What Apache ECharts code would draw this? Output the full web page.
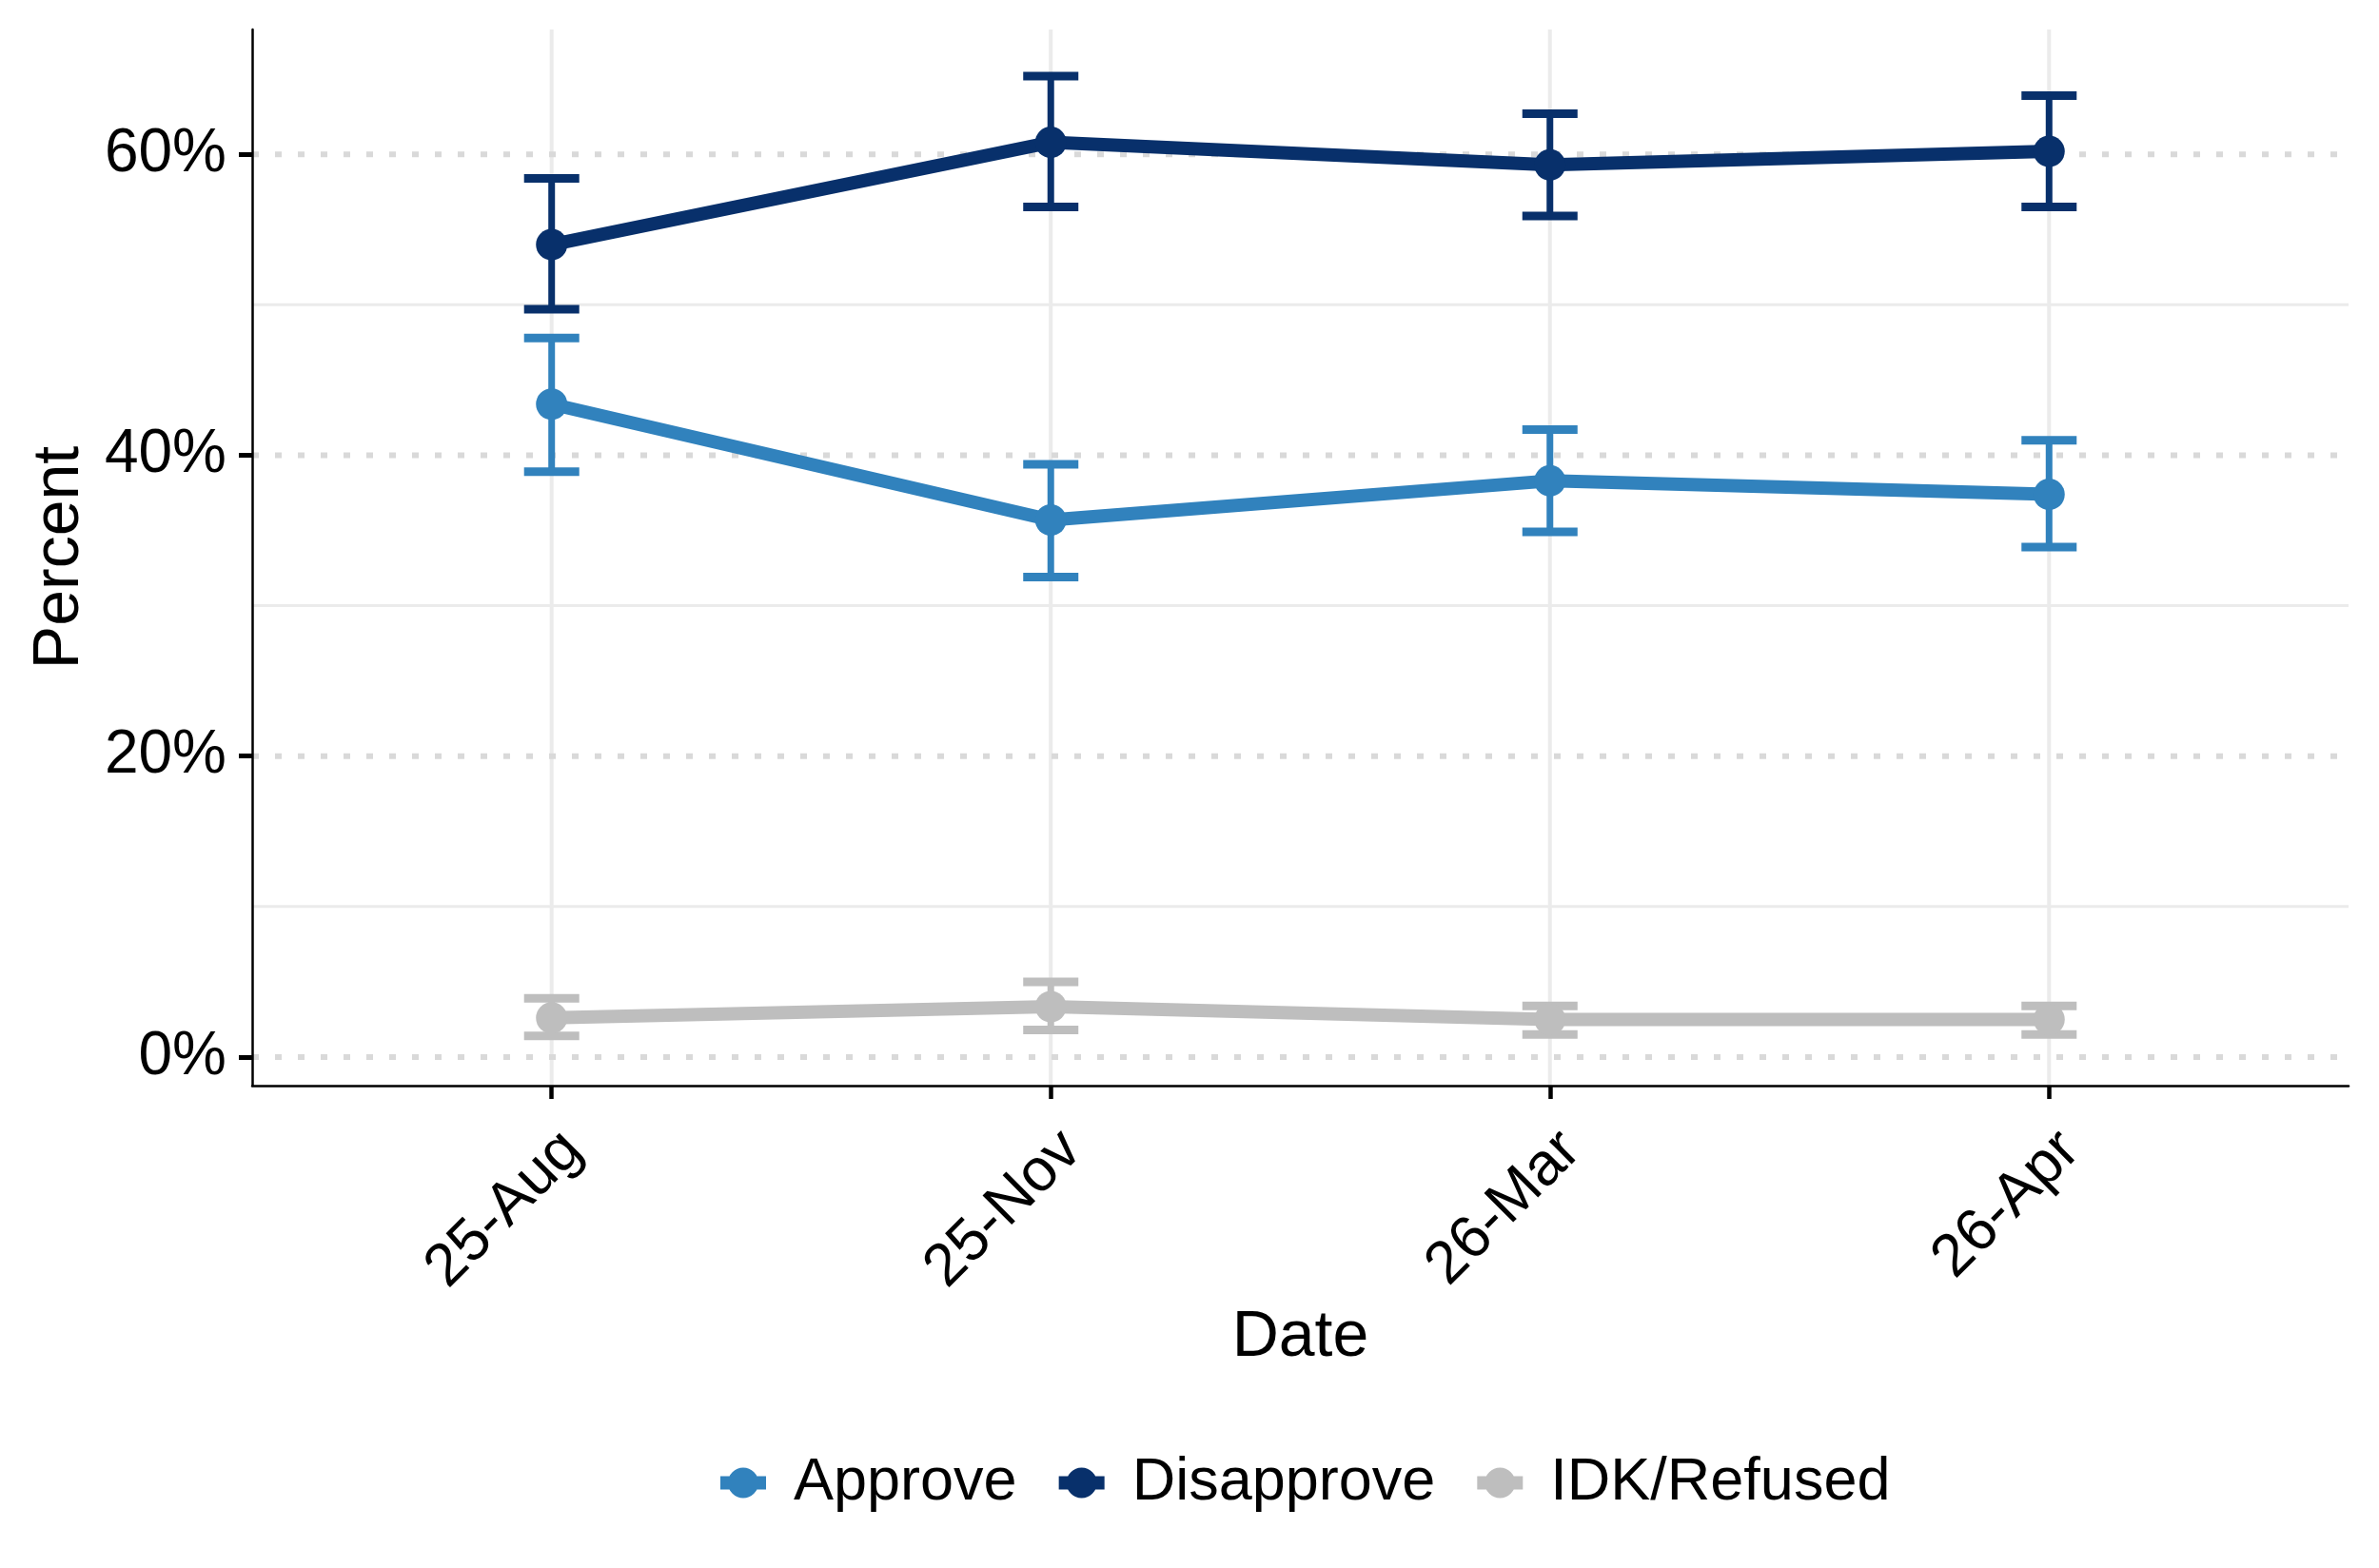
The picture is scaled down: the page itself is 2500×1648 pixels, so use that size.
<!DOCTYPE html>
<html>
<head>
<meta charset="utf-8">
<script src="https://cdn.jsdelivr.net/npm/echarts@6/dist/echarts.min.js"></script>
<style>
html,body{margin:0;padding:0;background:#fff;}
#main{width:2500px;height:1648px;}
</style>
</head>
<body>
<div id="main"></div>
<script>
const categories = ['25-Aug', '25-Nov', '26-Mar', '26-Apr'];
const approve = [43.4, 35.7, 38.3, 37.4];
const approveLow = [38.9, 31.9, 34.9, 33.9];
const approveHigh = [47.8, 39.4, 41.7, 41.0];
const disapprove = [54.0, 60.8, 59.3, 60.2];
const disapproveLow = [49.7, 56.5, 55.9, 56.5];
const disapproveHigh = [58.4, 65.2, 62.7, 63.9];
const idk = [2.6, 3.35, 2.5, 2.5];
const idkLow = [1.4, 1.8, 1.5, 1.5];
const idkHigh = [3.9, 5.0, 3.4, 3.4];
const yTicks = [0, 20, 40, 60];
const yMinor = [10, 30, 50];

const FONT = 'Liberation Sans, Arial, sans-serif';
const C_APP = '#3182BD', C_DIS = '#08306B', C_IDK = '#BEBEBE';
const LEGEND_ICON = 'path://M0,9 L48,9 L48,23 L0,23 Z M8,16 A16,16 0 1,1 40,16 A16,16 0 1,1 8,16 Z';

const chart = echarts.init(document.getElementById('main'));

function hLineSeries(vals, style) {
  return {
    type: 'custom', silent: true, z: 0, clip: false,
    data: vals.map(v => [0, v]),
    renderItem: function (params, api) {
      const cs = params.coordSys;
      const y = api.coord([0, api.value(1)])[1];
      return { type: 'line', shape: { x1: cs.x, y1: y, x2: cs.x + cs.width, y2: y }, style: style };
    }
  };
}
const vGrid = {
  type: 'custom', silent: true, z: 0, clip: false,
  data: categories.map((c, i) => [i, 0]),
  renderItem: function (params, api) {
    const cs = params.coordSys;
    const x = api.coord([api.value(0), 0])[0];
    return { type: 'line', shape: { x1: x, y1: cs.y, x2: x, y2: cs.y + cs.height }, style: { stroke: '#EBEBEB', lineWidth: 4 } };
  }
};

function errSeries(low, high, color) {
  return {
    type: 'custom', silent: true, z: 3,
    data: low.map((l, i) => [i, l, high[i]]),
    renderItem: function (params, api) {
      const x = api.value(0);
      const p1 = api.coord([x, api.value(1)]);
      const p2 = api.coord([x, api.value(2)]);
      const hw = 29;
      return {
        type: 'group', children: [
          { type: 'line', shape: { x1: p1[0], y1: p1[1], x2: p2[0], y2: p2[1] }, style: { stroke: color, lineWidth: 7 } },
          { type: 'line', shape: { x1: p1[0] - hw, y1: p1[1], x2: p1[0] + hw, y2: p1[1] }, style: { stroke: color, lineWidth: 9 } },
          { type: 'line', shape: { x1: p2[0] - hw, y1: p2[1], x2: p2[0] + hw, y2: p2[1] }, style: { stroke: color, lineWidth: 9 } }
        ]
      };
    }
  };
}
function lineSeries(name, vals, color) {
  return {
    name: name, type: 'line', z: 4,
    data: vals.map((v, i) => [i, v]),
    symbol: 'circle', symbolSize: 33,
    itemStyle: { color: color },
    lineStyle: { color: color, width: 14 },
    emphasis: { disabled: true }
  };
}

const option = {
  animation: false,
  backgroundColor: '#fff',
  textStyle: { fontFamily: FONT },
  grid: { left: 265, right: 32, top: 31, bottom: 507 },
  legend: {
    data: ['Approve', 'Disapprove', 'IDK/Refused'],
    icon: LEGEND_ICON,
    left: 752, top: 1522,
    itemWidth: 48, itemHeight: 32, itemGap: 44,
    textStyle: { fontFamily: FONT, fontSize: 63, color: '#000', padding: [0, 0, 0, 24] }
  },
  xAxis: {
    type: 'value', min: -0.6, max: 3.6,
    name: 'Date', nameLocation: 'middle', nameGap: 224,
    nameTextStyle: { fontFamily: FONT, fontSize: 68, color: '#000' },
    axisLine: { show: true, onZero: false, lineStyle: { color: '#000', width: 2.5 } },
    axisTick: { show: true, customValues: categories.map((c, i) => i), length: 14, lineStyle: { color: '#000', width: 4.5 } },
    axisLabel: {
      customValues: categories.map((c, i) => i),
      formatter: v => categories[Math.round(v)] || '',
      rotate: 45, align: 'right', verticalAlign: 'top', margin: 36,
      fontFamily: FONT, fontSize: 63, color: '#000'
    },
    splitLine: { show: false }
  },
  yAxis: {
    type: 'value', min: -1.9, max: 68.3,
    name: 'Percent', nameLocation: 'middle', nameGap: 168, nameRotate: 90,
    nameTextStyle: { fontFamily: FONT, fontSize: 68, color: '#000' },
    axisLine: { show: true, onZero: false, lineStyle: { color: '#000', width: 2.5 } },
    axisTick: { show: true, customValues: yTicks, length: 14, lineStyle: { color: '#000', width: 5 } },
    axisLabel: {
      customValues: yTicks,
      formatter: v => Math.round(v) + '%',
      margin: 27, fontFamily: FONT, fontSize: 64, color: '#000'
    },
    splitLine: { show: false }
  },
  series: [
    vGrid,
    hLineSeries(yMinor, { stroke: '#EBEBEB', lineWidth: 3 }),
    hLineSeries(yTicks, { stroke: '#D9D9D9', lineWidth: 6, lineDash: [7, 17] }),
    errSeries(approveLow, approveHigh, C_APP),
    errSeries(disapproveLow, disapproveHigh, C_DIS),
    errSeries(idkLow, idkHigh, C_IDK),
    lineSeries('Approve', approve, C_APP),
    lineSeries('Disapprove', disapprove, C_DIS),
    lineSeries('IDK/Refused', idk, C_IDK)
  ]
};
chart.setOption(option);
</script>
</body>
</html>
